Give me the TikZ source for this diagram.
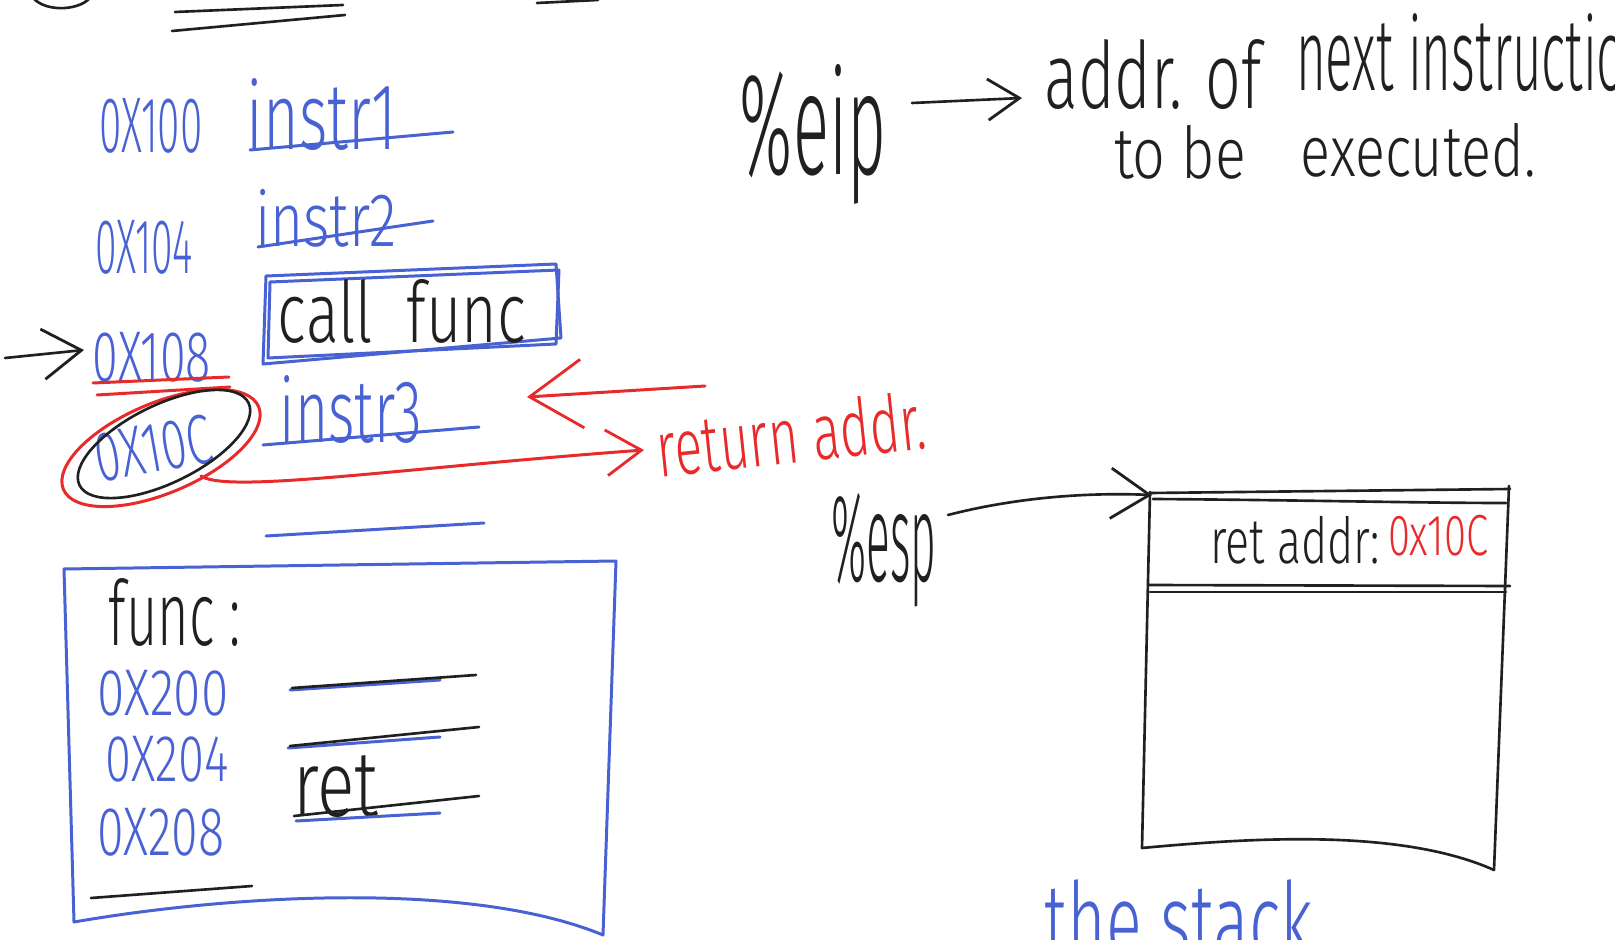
\documentclass[tikz,border=0pt]{standalone}
\usepackage{graphicx}
\usepackage{fontspec}
\setmainfont{Fira Sans Light}
\usetikzlibrary{arrows.meta}

% one drawing unit = 0.01cm; text is squeezed into a given box (w x h units)
\newlength{\pxu}\setlength{\pxu}{0.01cm}
\newcommand{\hw}[3]{\resizebox*{#1\pxu}{#2\pxu}{#3}}

\definecolor{penblue}{RGB}{72,98,212}
\definecolor{penred}{RGB}{232,42,42}
\definecolor{ink}{RGB}{32,32,32}

\begin{document}
\begin{tikzpicture}[x=0.01cm, y=-0.01cm, line cap=round, line join=round,
  txt/.style={inner sep=0pt, outer sep=0pt},
  bluepen/.style={draw=penblue, line width=0.85pt},
  redpen/.style={draw=penred, line width=0.85pt},
  inkpen/.style={draw=ink, line width=0.75pt},
  barb/.style={-{Straight Barb[length=#1pt, width=1.3*#1pt, line width=0.8pt]}},
  barb/.default=10]

\clip (0,0) rectangle (1615,940);
\fill[white] (0,0) rectangle (1615,940);

% ---------- scraps along the top edge ----------
\draw[inkpen] (31,-5) .. controls (41,12) and (77,12) .. (90,-2);
\draw[inkpen] (175,12) -- (343,5);
\draw[inkpen] (172,31) -- (345,15);
\draw[inkpen] (537,3) -- (598,0);

% ---------- instruction listing ----------
\node[txt, text=penblue] (a100) at (151,126) {\hw{103}{55}{0X100}};
\node[txt, text=penblue] (i1)   at (322,115) {\hw{150}{72}{instr1}};
\draw[bluepen] (250,150) -- (453,132);

\node[txt, text=penblue] (a104) at (144,247) {\hw{98}{54}{0X104}};
\node[txt, text=penblue] (i2)   at (326,218) {\hw{142}{58}{instr2}};
\draw[bluepen] (258,247) -- (433,221);

% call func, boxed twice
\draw[bluepen] (266,276) -- (556,264) -- (561,338) -- (263,364) -- cycle;
\draw[bluepen] (270,282) -- (559,270) -- (556,344) -- (268,358) -- cycle;
\node[txt, text=ink] (callf) at (402,311) {\hw{248}{64}{call\ \ func}};

\node[txt, text=penblue] (a108) at (152,357) {\hw{118}{50}{0X108}};
\draw[redpen] (93,383) -- (229,377);
\draw[redpen] (97,395) -- (230,387);
\coordinate (pcS) at (5,358);
\coordinate (pcE) at (84,350);
\draw[inkpen, barb=11] (pcS) -- (pcE);

\node[txt, text=penblue, rotate=10] (a10c) at (153,448) {\hw{118}{50}{0X10C}};
\draw[redpen, rotate around={23:(161,448)}] (161,448) ellipse [x radius=106, y radius=45];
\draw[inkpen, rotate around={26:(164,444)}] (164,444) ellipse [x radius=94, y radius=39];

\node[txt, text=penblue] (i3) at (351,409) {\hw{142}{68}{instr3}};
\draw[bluepen] (263,445) -- (479,427);

% return address: where execution resumes
\node[txt, text=penred, rotate=6] (retaddr) at (791,434) {\hw{270}{60}{return addr.}};
\coordinate (raS) at (705,386);
\coordinate (raE) at (527,397);
\draw[redpen, barb=15] (raS) -- (raE);
\coordinate (rcE) at (644,450);
\draw[redpen, barb=10] (201,476) .. controls (228,494) and (400,468) .. (rcE);

\draw[bluepen] (266,536) -- (484,523);

% ---------- body of func ----------
\draw[bluepen] (64,569) -- (616,561) -- (603,935)
  .. controls (470,880) and (230,895) .. (74,922) -- cycle;
\node[txt, text=ink] (funcl) at (175,612) {\hw{132}{68}{func :}};

\node[txt, text=penblue] (a200) at (163,693) {\hw{131}{46}{0X200}};
\draw[bluepen] (290,690) -- (440,680);
\draw[inkpen] (292,688) -- (476,675);

\node[txt, text=penblue] (a204) at (167,759) {\hw{123}{46}{0X204}};
\draw[bluepen] (288,748) -- (440,737);
\draw[inkpen] (290,746) -- (479,727);

\node[txt, text=penblue] (a208) at (161,832) {\hw{127}{48}{0X208}};
\node[txt, text=ink] (ret) at (336,787) {\hw{85}{62}{ret}};
\draw[bluepen] (296,821) -- (440,813);
\draw[inkpen] (294,816) -- (479,796);
\draw[inkpen] (91,898) -- (252,886);

% ---------- %eip ----------
\node[txt, text=ink] (eip) at (813,134) {\hw{146}{140}{\%eip}};
\coordinate (eipS) at (912,103);
\coordinate (eipE) at (1022,98);
\draw[inkpen, barb=9] (eipS) -- (eipE);
\node[txt, text=ink] (addrof) at (1153,75) {\hw{217}{70}{addr. of}};
\node[txt, text=ink] (nexti)  at (1476,53) {\hw{360}{78}{next instruction}};
\node[txt, text=ink] (tobe)   at (1180,152) {\hw{132}{54}{to be}};
\node[txt, text=ink] (execd)  at (1418,150) {\hw{235}{54}{executed.}};

% ---------- %esp and the stack ----------
\node[txt, text=ink] (esp) at (884,550) {\hw{105}{114}{\%esp}};
\coordinate (stackTL) at (1152,495);
\draw[inkpen, barb=11] (948,515) .. controls (1010,499) and (1080,492) .. (stackTL);

\draw[inkpen] (1150,493) -- (1510,489);
\draw[inkpen] (1153,499) .. controls (1300,500) and (1420,503) .. (1506,503);
\draw[inkpen] (1150,492) -- (1142,848);
\draw[inkpen] (1509,486) -- (1494,870);
\draw[inkpen] (1148,585) -- (1510,586);
\draw[inkpen] (1150,592) -- (1506,592);
\draw[inkpen] (1142,848) .. controls (1250,838) and (1400,828) .. (1494,870);

\node[txt, text=ink]    (retlbl) at (1295,540) {\hw{170}{48}{ret addr:}};
\node[txt, text=penred] (retval) at (1438,536) {\hw{100}{41}{0x10C}};

% caption running off the lower edge
\node[txt, text=penblue] (stackcap) at (1179,920) {\hw{268}{80}{the stack}};

\end{tikzpicture}
\end{document}
